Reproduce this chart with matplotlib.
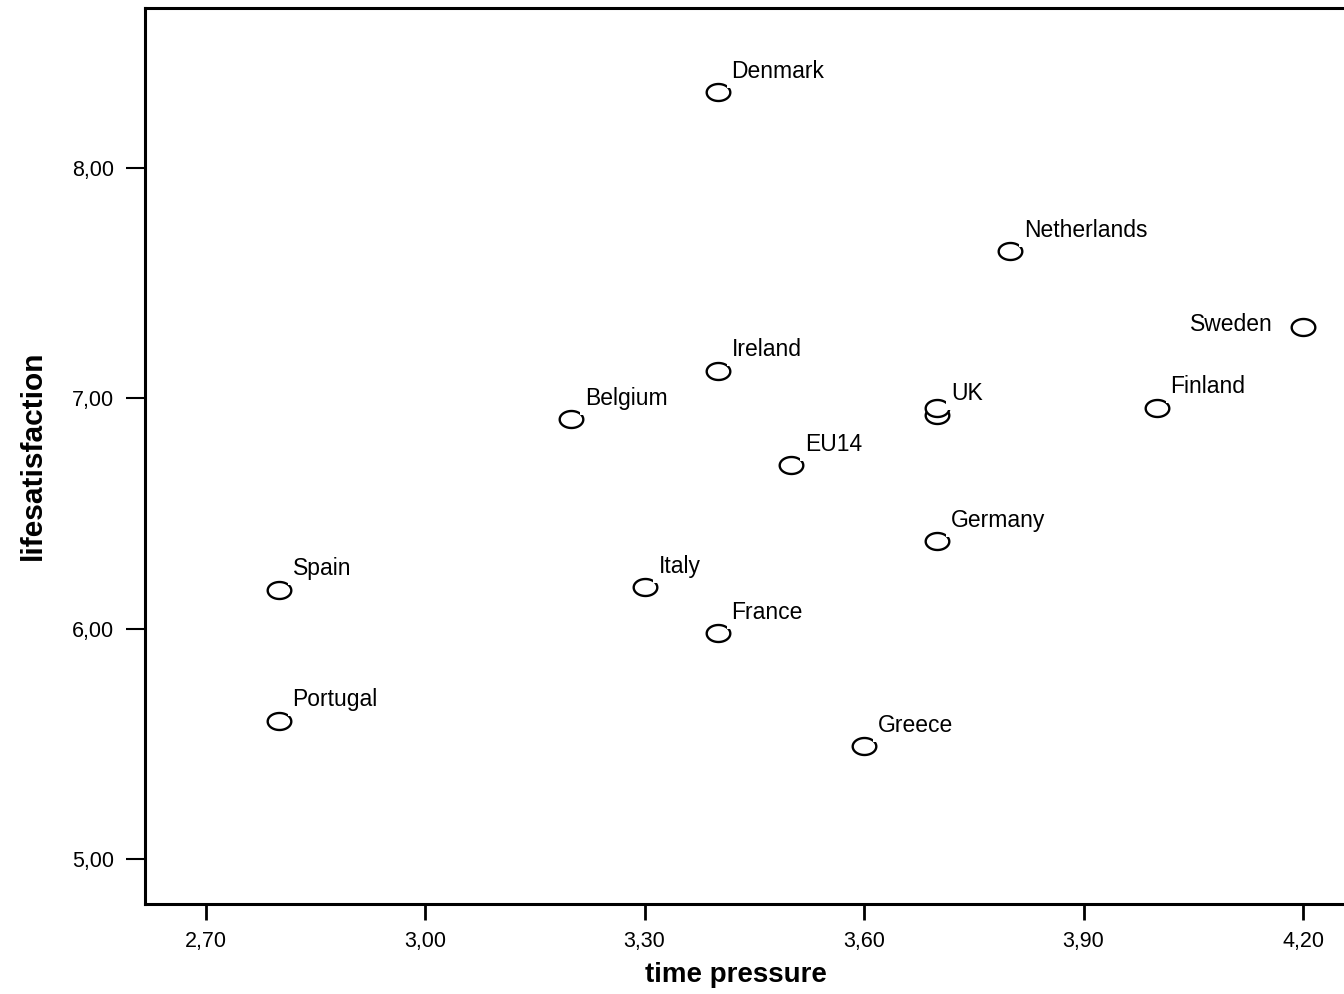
import matplotlib
matplotlib.use("Agg")
import matplotlib.pyplot as plt
import numpy as np
from matplotlib.path import Path
from matplotlib.ticker import FixedLocator, FuncFormatter

plt.rcParams['font.family'] = ['Liberation Sans', 'DejaVu Sans']

# ---- data ----
countries = ["Denmark", "Netherlands", "Sweden", "Ireland", "Belgium", "UK", "",
             "Finland", "EU14", "Germany", "Spain", "Italy", "France", "Portugal", "Greece"]
time_pressure = [3.40, 3.80, 4.20, 3.40, 3.20, 3.70, 3.70,
                 4.00, 3.50, 3.70, 2.80, 3.30, 3.40, 2.80, 3.60]
life_satisfaction = [8.33, 7.64, 7.31, 7.12, 6.91, 6.93, 6.96,
                     6.96, 6.71, 6.38, 6.17, 6.18, 5.98, 5.60, 5.49]
x_ticks = [2.70, 3.00, 3.30, 3.60, 3.90, 4.20]
y_ticks = [5.00, 6.00, 7.00, 8.00]
x_title = "time pressure"
y_title = "lifesatisfaction"

fig = plt.figure(figsize=(13.44, 9.94), dpi=100)
ax = fig.add_axes([0.1081, 0.0903, 0.8919, 0.9014])
ax.set_xlim(2.6177, 4.256)
ax.set_ylim(4.803, 8.695)

# ellipse-shaped open marker
t = np.linspace(0, 2 * np.pi, 64)
ell = Path(np.column_stack([np.cos(t), 0.72 * np.sin(t)]), closed=True)

ax.plot(time_pressure, life_satisfaction, linestyle='none', marker=ell,
        markersize=17, markerfacecolor='white', markeredgecolor='black',
        markeredgewidth=1.7, zorder=2)

for name, x, y in zip(countries, time_pressure, life_satisfaction):
    if not name:
        continue
    if name == "Sweden":
        off, ha = (-21.5, -3), 'right'
    else:
        off, ha = (10, 10.5), 'left'
    ax.annotate(name, (x, y), xytext=off, textcoords='offset points',
                ha=ha, va='baseline', fontsize=16.5, color='black', zorder=3,
                bbox=dict(boxstyle='square,pad=0.22', facecolor='white',
                          edgecolor='none'))

for s in ['left', 'bottom', 'top']:
    ax.spines[s].set_linewidth(2.2)
    ax.spines[s].set_color('black')
ax.spines['right'].set_visible(False)

fmt = FuncFormatter(lambda v, p: f"{v:.2f}".replace('.', ','))
ax.xaxis.set_major_locator(FixedLocator(x_ticks))
ax.yaxis.set_major_locator(FixedLocator(y_ticks))
ax.xaxis.set_major_formatter(fmt)
ax.yaxis.set_major_formatter(fmt)
ax.tick_params(axis='x', direction='out', length=11.5, width=2, pad=8, labelsize=15.5)
ax.tick_params(axis='y', direction='out', length=14, width=1.5, pad=8.5, labelsize=15.5)

fig.text(0.5476, 1 - 975 / 994, x_title, ha='center', va='center',
         fontsize=20, fontweight='bold')
fig.text(33 / 1344, 1 - 455 / 994, y_title, ha='center', va='center',
         rotation=90, fontsize=21.5, fontweight='bold')

fig.savefig("out.png", dpi=100, facecolor='white')
